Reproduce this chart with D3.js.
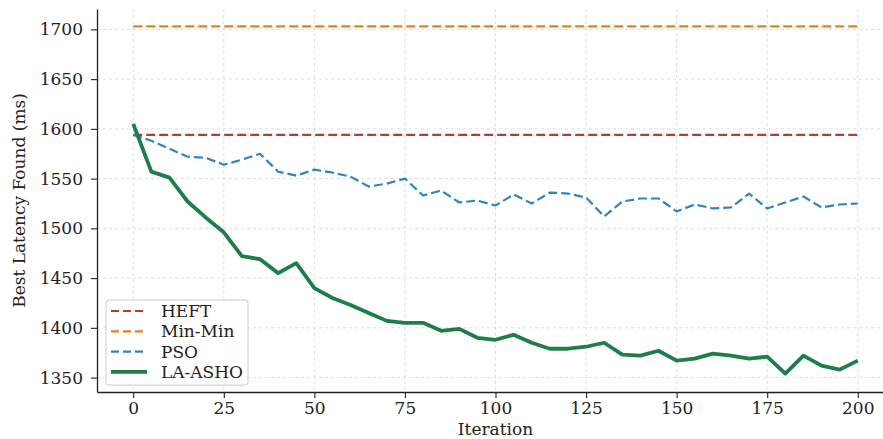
<!DOCTYPE html>
<html>
<head>
<meta charset="utf-8">
<script src="https://cdn.jsdelivr.net/npm/d3@7"></script>
<style>
  body { margin: 0; background: #fff; }
  svg { display: block; font-family: "DejaVu Serif", serif; }
</style>
</head>
<body>
<div id="chart"></div>
<script>
// Iterations sampled every 5 steps.
const iterations = [0, 5, 10, 15, 20, 25, 30, 35, 40, 45, 50, 55, 60, 65, 70, 75, 80, 85, 90, 95, 100,
    105, 110, 115, 120, 125, 130, 135, 140, 145, 150, 155, 160, 165, 170, 175, 180, 185, 190, 195, 200];

// Best latency found (ms) per iteration.
const psoLatency = [1594, 1588, 1580, 1572, 1571, 1564, 1569, 1575, 1557, 1553, 1559, 1556, 1552, 1542,
    1545, 1550, 1533, 1538, 1526, 1528, 1523, 1534, 1525, 1536, 1535, 1531, 1512, 1527, 1530, 1530,
    1517, 1524, 1520, 1521, 1535, 1520, 1526, 1532, 1521, 1524, 1525];
const laAshoLatency = [1605, 1557, 1551, 1527, 1511, 1496, 1472, 1469, 1455, 1465, 1440, 1430, 1423, 1415,
    1407, 1405, 1405, 1397, 1399, 1390, 1388, 1393, 1385, 1379, 1379, 1381, 1385, 1373, 1372, 1377,
    1367, 1369, 1374, 1372, 1369, 1371, 1354, 1372, 1362, 1358, 1367];

// Static baselines (constant over all iterations).
const heftLatency = 1594;
const minMinLatency = 1703;

const xTicks = [0, 25, 50, 75, 100, 125, 150, 175, 200];
const yTicks = [1350, 1400, 1450, 1500, 1550, 1600, 1650, 1700];

const width = 883;
const height = 439;
const margin = { top: 9, left: 97, bottom: 47 };
const plotRight = 894; // axes run past the right edge of the picture
const fontSize = '17px';
const dash = '9,4';

const series = [
    { name: 'HEFT', color: '#c0392b', dashed: true, width: 2.2,
      values: iterations.map(() => heftLatency) },
    { name: 'Min-Min', color: '#e67e22', dashed: true, width: 2.2,
      values: iterations.map(() => minMinLatency) },
    { name: 'PSO', color: '#2e86c1', dashed: true, width: 2.2, values: psoLatency },
    { name: 'LA-ASHO', color: '#1e7e4a', dashed: false, width: 3.8, values: laAshoLatency }
];

const svg = d3.select('#chart').append('svg')
    .attr('width', width)
    .attr('height', height);

const x = d3.scaleLinear().domain([-10, 210]).range([margin.left, plotRight]);
const y = d3.scaleLinear().domain([1335.5, 1720.5]).range([height - margin.bottom, margin.top]);

const bottom = height - margin.bottom;

// Grid lines
svg.append('g')
    .selectAll('line.vgrid')
    .data(xTicks)
    .enter().append('line')
    .attr('x1', d => x(d)).attr('x2', d => x(d))
    .attr('y1', margin.top).attr('y2', bottom)
    .attr('stroke', '#d4d4d4')
    .attr('stroke-width', 0.8)
    .attr('stroke-dasharray', '3,3');

svg.append('g')
    .selectAll('line.hgrid')
    .data(yTicks)
    .enter().append('line')
    .attr('x1', margin.left).attr('x2', plotRight)
    .attr('y1', d => y(d)).attr('y2', d => y(d))
    .attr('stroke', '#d4d4d4')
    .attr('stroke-width', 0.8)
    .attr('stroke-dasharray', '3,3');

// Lines
const line = d3.line()
    .x((d, i) => x(iterations[i]))
    .y(d => y(d));

series.forEach(s => {
    svg.append('path')
        .datum(s.values)
        .attr('fill', 'none')
        .attr('stroke', s.color)
        .attr('stroke-width', s.width)
        .attr('stroke-linejoin', 'round')
        .attr('stroke-dasharray', s.dashed ? dash : null)
        .attr('d', line);
});

// Axes
const xAxis = svg.append('g')
    .attr('transform', `translate(0,${bottom})`)
    .call(d3.axisBottom(x).tickValues(xTicks).tickSize(6).tickPadding(4).tickSizeOuter(0));

const yAxis = svg.append('g')
    .attr('transform', `translate(${margin.left},0)`)
    .call(d3.axisLeft(y).tickValues(yTicks).tickFormat(d3.format('d'))
        .tickSize(6).tickPadding(8).tickSizeOuter(0));

[xAxis, yAxis].forEach(a => {
    a.select('.domain').attr('stroke', '#222').attr('stroke-width', 1.3);
    a.selectAll('.tick line').attr('stroke', '#222').attr('stroke-width', 1.1);
    a.selectAll('.tick text')
        .attr('fill', '#222')
        .style('font-family', '"DejaVu Serif", serif')
        .style('font-size', fontSize);
});

// Axis labels
svg.append('text')
    .attr('x', (margin.left + plotRight) / 2)
    .attr('y', 435)
    .attr('text-anchor', 'middle')
    .attr('fill', '#222')
    .style('font-size', fontSize)
    .text('Iteration');

svg.append('text')
    .attr('transform', `translate(25,${(margin.top + bottom) / 2}) rotate(-90)`)
    .attr('text-anchor', 'middle')
    .attr('fill', '#222')
    .style('font-size', fontSize)
    .text('Best Latency Found (ms)');

// Legend
const legend = svg.append('g').attr('transform', 'translate(106,300)');
legend.append('rect')
    .attr('width', 142).attr('height', 85)
    .attr('rx', 3)
    .attr('fill', '#fff').attr('fill-opacity', 0.85)
    .attr('stroke', '#cccccc');

series.forEach((s, i) => {
    const cy = 11 + i * 20.3;
    legend.append('line')
        .attr('x1', 5).attr('x2', 41)
        .attr('y1', cy).attr('y2', cy)
        .attr('stroke', s.color)
        .attr('stroke-width', s.width)
        .attr('stroke-dasharray', s.dashed ? '8,4' : null);
    legend.append('text')
        .attr('x', 55).attr('y', cy + 6)
        .attr('fill', '#222')
        .style('font-size', fontSize)
        .text(s.name);
});
</script>
</body>
</html>
